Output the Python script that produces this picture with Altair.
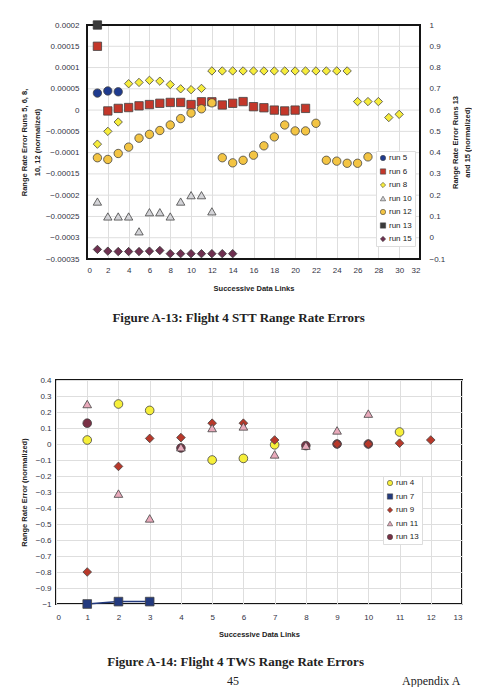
import altair as alt
import pandas as pd

# ---------------- Figure A-13 (top) ----------------
r5_x = [1, 2, 3]
r5_y = [0.000040, 0.000045, 0.000043]

r6_x = list(range(1, 22))
r6_y = [0.000150, -0.000002, 0.000004, 0.000006, 0.000010, 0.000013, 0.000016,
        0.000018, 0.000018, 0.000013, 0.0000195, 0.0000195, 0.000012, 0.000016,
        0.000020, 0.000008, 0.0000055, 0.000000, -0.000002, 0.000000, 0.000004]

r8_x = list(range(1, 26)) + [26, 27, 28, 29, 30]
r8_y = [-0.000080, -0.000050, -0.000028, 0.000062, 0.000065, 0.000070, 0.000068,
        0.000060, 0.000050, 0.000048, 0.000051, 0.000092, 0.000092, 0.000092,
        0.000092, 0.000092, 0.000092, 0.000092, 0.000092, 0.000092, 0.000092,
        0.000092, 0.000092, 0.000092, 0.000092,
        0.000020, 0.000020, 0.000020, -0.0000175, -0.000010]

r10_x = list(range(1, 13))
r10_y = [-0.000215, -0.000250, -0.000250, -0.000250, -0.000285, -0.000240,
         -0.000240, -0.000250, -0.000215, -0.000200, -0.000200, -0.000238]

r12_x = list(range(1, 28))
r12_y = [-0.000112, -0.000116, -0.000102, -0.000087, -0.000066, -0.000057,
         -0.000048, -0.000035, -0.000020, -0.000007, 0.000003, 0.000017,
         -0.000112, -0.000124, -0.000118, -0.000106, -0.000084, -0.000063,
         -0.000035, -0.000049, -0.000049, -0.000031, -0.000118, -0.000120,
         -0.000125, -0.000125, -0.000110]

r13_x = [1]
r13_y = [1.0]
r15_x = list(range(1, 15))
r15_y = [-0.055, -0.063, -0.065, -0.065, -0.065, -0.063, -0.060,
         -0.075, -0.075, -0.075, -0.075, -0.075, -0.075, -0.075]

top_series = ["run 5", "run 6", "run 8", "run 10", "run 12", "run 13", "run 15"]
top_fill = ["#1f3b8f", "#c4372a", "#f6ec3c", "#d4d4d8", "#f3c443", "#3a3a3a", "#6e3050"]
top_shape = ["circle", "square", "diamond", "triangle-up", "circle", "square", "diamond"]

left_ticks = [-0.00035, -0.0003, -0.00025, -0.0002, -0.00015, -0.0001, -0.00005,
              0, 0.00005, 0.0001, 0.00015, 0.0002]
right_ticks = [-0.1, 0, 0.1, 0.2, 0.3, 0.4, 0.5, 0.6, 0.7, 0.8, 0.9, 1.0]
top_x_ticks = list(range(0, 33, 2))
top_x_dom = [0, 32]
top_yl_dom = [-0.00035, 0.0002]
top_yr_dom = [-0.1, 1.0]

# ---------------- Figure A-14 (bottom) ----------------
b13_x = [1, 4, 8, 9, 10]
b13_y = [0.13, -0.025, -0.01, 0.0, 0.0]
b4_x = [1, 2, 3, 5, 6, 7, 11]
b4_y = [0.025, 0.25, 0.21, -0.10, -0.09, -0.005, 0.075]
b7_x = [1, 2, 3]
b7_y = [-1.0, -0.985, -0.985]
b9_x = [1, 2, 3, 4, 5, 6, 7, 9, 10, 11, 12]
b9_y = [-0.80, -0.14, 0.035, 0.04, 0.13, 0.13, 0.025, 0.0, 0.0, 0.005, 0.025]
b11_x = [1, 2, 3, 4, 5, 6, 7, 8, 9, 10]
b11_y = [0.25, -0.31, -0.465, -0.02, 0.10, 0.11, -0.065, -0.01, 0.085, 0.19]

bot_series = ["run 4", "run 7", "run 9", "run 11", "run 13"]
bot_fill = ["#f6ef3a", "#233a7e", "#b8382a", "#e9aabb", "#7a3045"]
bot_shape = ["circle", "square", "diamond", "triangle-up", "circle"]
bot_y_ticks = [-1.0, -0.9, -0.8, -0.7, -0.6, -0.5, -0.4, -0.3, -0.2, -0.1,
               0, 0.1, 0.2, 0.3, 0.4]
bot_x_ticks = list(range(0, 14))

foot_txt = ["45", "Appendix A"]

FONT = "Liberation Sans"
LBL = "#333344"
LFS = 8
GRID = "#dedede"
FRAME = "#151515"

# the upper plot starts 31 px to the right of the lower one
SHIFT = 31
TOP_W = 333


def rows(name, xs, ys, order):
    return [{"series": name, "x": x, "y": y, "o": order * 100 + i}
            for i, (x, y) in enumerate(zip(xs, ys))]


def legend(lx, ly, full=True):
    if not full:
        return alt.Legend(title=None, orient="none", legendX=lx, legendY=ly)
    return alt.Legend(title=None, orient="none", legendX=lx, legendY=ly,
                      fillColor="white", strokeColor="#dddddd", padding=3,
                      labelFont=FONT, labelFontSize=8, labelColor="#222",
                      symbolSize=28, rowPadding=5.5, labelOffset=2,
                      symbolStrokeColor="#444", symbolStrokeWidth=0.6)


left_df = pd.DataFrame(
    rows("run 10", r10_x, r10_y, 0) + rows("run 5", r5_x, r5_y, 1)
    + rows("run 6", r6_x, r6_y, 2) + rows("run 8", r8_x, r8_y, 3)
    + rows("run 12", r12_x, r12_y, 4))
right_df = pd.DataFrame(rows("run 13", r13_x, r13_y, 5) + rows("run 15", r15_x, r15_y, 6))
grid_df = pd.DataFrame({"v": left_ticks})

x_scale_top = alt.Scale(domain=top_x_dom, nice=False, range=[SHIFT, SHIFT + TOP_W])
yl_scale = alt.Scale(domain=top_yl_dom, nice=False, zero=False)
yr_scale = alt.Scale(domain=top_yr_dom, nice=False, zero=False)

x_axis_top = alt.Axis(values=top_x_ticks, title="Successive Data Links", labelOverlap=False,
                      grid=True, gridColor=GRID, ticks=False, domain=False,
                      labelFont=FONT, labelFontSize=LFS, labelColor=LBL, labelPadding=7,
                      titleFont=FONT, titleFontSize=7.5, titleFontWeight="bold",
                      titleColor="#222", titlePadding=10, titleX=SHIFT + TOP_W / 2)
y_left_axis = alt.Axis(values=left_ticks, format=".5~f", grid=False, ticks=False,
                       domain=False, offset=-SHIFT, labelOverlap=False,
                       title=["Range Rate Error Runs 5, 6, 8,", "10, 12 (normalized)"],
                       labelFont=FONT, labelFontSize=LFS, labelColor=LBL, labelPadding=8,
                       titleFont=FONT, titleFontSize=7.5, titleFontWeight="bold",
                       titleColor="#222", titlePadding=4, titleLineHeight=13)

fill_top = alt.Fill("series:N", scale=alt.Scale(domain=top_series, range=top_fill),
                    legend=legend(SHIFT + 289, 126))
shape_top = alt.Shape("series:N", scale=alt.Scale(domain=top_series, range=top_shape),
                      legend=legend(SHIFT + 289, 126, False))

# horizontal gridlines and frame of the upper plot, spanning the data domain only
grid_layer = alt.Chart(grid_df).mark_rule(color=GRID, strokeWidth=1).encode(
    x=alt.datum(top_x_dom[0], type="quantitative", scale=x_scale_top, axis=x_axis_top),
    x2=alt.datum(top_x_dom[1]),
    y=alt.Y("v:Q", scale=yl_scale, axis=y_left_axis))
frame_layer = alt.Chart(grid_df).transform_aggregate(n="count()").mark_rect(
    fillOpacity=0, stroke=FRAME, strokeWidth=2).encode(
    x=alt.datum(top_x_dom[0], type="quantitative", scale=x_scale_top, axis=x_axis_top),
    x2=alt.datum(top_x_dom[1]),
    y=alt.datum(top_yl_dom[0], type="quantitative", scale=yl_scale, axis=y_left_axis),
    y2=alt.datum(top_yl_dom[1]))

left_layer = alt.Chart(left_df).mark_point(filled=True, size=70, stroke="#444",
                                           strokeWidth=0.8, opacity=1).encode(
    x=alt.X("x:Q", scale=x_scale_top, axis=x_axis_top),
    y=alt.Y("y:Q", scale=yl_scale, axis=y_left_axis),
    fill=fill_top, shape=shape_top, order="o:Q")

right_layer = alt.Chart(right_df).mark_point(filled=True, size=70, stroke="#333",
                                             strokeWidth=0.8, opacity=1).encode(
    x=alt.X("x:Q", scale=x_scale_top, axis=x_axis_top),
    y=alt.Y("y:Q", scale=yr_scale,
            axis=alt.Axis(values=right_ticks, format=".1~f", orient="right", grid=False,
                          ticks=False, domain=False, labelOverlap=False,
                          title=["Range Rate Error Runs 13", "and 15 (normalized)"],
                          titleAngle=270,
                          labelFont=FONT, labelFontSize=LFS, labelColor=LBL, labelPadding=9,
                          titleFont=FONT, titleFontSize=7.5, titleFontWeight="bold",
                          titleColor="#222", titlePadding=3, titleLineHeight=12)),
    fill=fill_top, shape=shape_top, order="o:Q")

left_group = alt.layer(grid_layer, frame_layer, left_layer)
top = alt.layer(left_group, right_layer).resolve_scale(y="independent").properties(
    width=SHIFT + TOP_W, height=234, view=alt.ViewBackground(strokeOpacity=0),
    title=alt.TitleParams("Figure A-13:  Flight 4 STT Range Rate Errors", orient="bottom",
                          font="Liberation Serif", fontSize=13, fontWeight="bold",
                          color="#222", offset=20, anchor="start", dx=92))

bot_df = pd.DataFrame(
    rows("run 13", b13_x, b13_y, 0) + rows("run 4", b4_x, b4_y, 1)
    + rows("run 7", b7_x, b7_y, 2) + rows("run 9", b9_x, b9_y, 3)
    + rows("run 11", b11_x, b11_y, 4))

x_bot = alt.X("x:Q", scale=alt.Scale(domain=[0, 13], nice=False),
              axis=alt.Axis(values=bot_x_ticks, title="Successive Data Links",
                            grid=True, gridColor=GRID, ticks=False, domain=False,
                            labelOverlap=False,
                            labelFont=FONT, labelFontSize=LFS, labelColor=LBL, labelPadding=9,
                            titleFont=FONT, titleFontSize=7.5, titleFontWeight="bold",
                            titleColor="#222", titlePadding=9))
y_bot = alt.Y("y:Q", scale=alt.Scale(domain=[-1.0, 0.4], nice=False, zero=False),
              axis=alt.Axis(values=bot_y_ticks, format=".1~f", grid=True, gridColor=GRID,
                            ticks=False, domain=False, title="Range Rate Error (normalized)",
                            labelOverlap=False,
                            labelFont=FONT, labelFontSize=LFS, labelColor=LBL, labelPadding=5,
                            titleFont=FONT, titleFontSize=7.5, titleFontWeight="bold",
                            titleColor="#222", titlePadding=7))
fill_bot = alt.Fill("series:N", scale=alt.Scale(domain=bot_series, range=bot_fill),
                    legend=legend(327, 96))
shape_bot = alt.Shape("series:N", scale=alt.Scale(domain=bot_series, range=bot_shape),
                      legend=legend(327, 96, False))

bot_line = alt.Chart(bot_df).transform_filter(alt.datum.series == "run 7").mark_line(
    color="#233a7e", strokeWidth=1.5).encode(x=x_bot, y=y_bot)
bot_pts = alt.Chart(bot_df).mark_point(filled=True, size=75, stroke="#444",
                                       strokeWidth=0.8, opacity=1).encode(
    x=x_bot, y=y_bot, fill=fill_bot, shape=shape_bot, order="o:Q")

bottom = alt.layer(bot_line, bot_pts).properties(
    width=406, height=224, view=alt.ViewBackground(stroke=FRAME, strokeWidth=2),
    title=alt.TitleParams("Figure A-14:  Flight 4 TWS Range Rate Errors", orient="bottom",
                          font="Liberation Serif", fontSize=13, fontWeight="bold",
                          color="#222", offset=18, anchor="start", dx=87))

# page footer (page number and appendix name)
foot_df = pd.DataFrame({"t": foot_txt, "k": [0, 1]})
footer = alt.Chart(foot_df).mark_text(font="Liberation Serif", fontSize=12, align="left",
                                      baseline="top", color="#222").encode(
    x=alt.X("k:Q", scale=alt.Scale(domain=[0, 1], range=[171, 346]), axis=None),
    y=alt.value(0), text="t:N").properties(
    width=406, height=10, view=alt.ViewBackground(strokeOpacity=0))

lower = alt.vconcat(bottom, footer, spacing=5)

chart = alt.vconcat(top, lower, spacing=50).resolve_scale(
    fill="independent", shape="independent").resolve_legend(
    fill="independent", shape="independent").properties(
    padding={"left": 11, "top": 11, "right": 0, "bottom": 0})

chart.save("out.html", embed_options={"renderer": "svg", "actions": False})
